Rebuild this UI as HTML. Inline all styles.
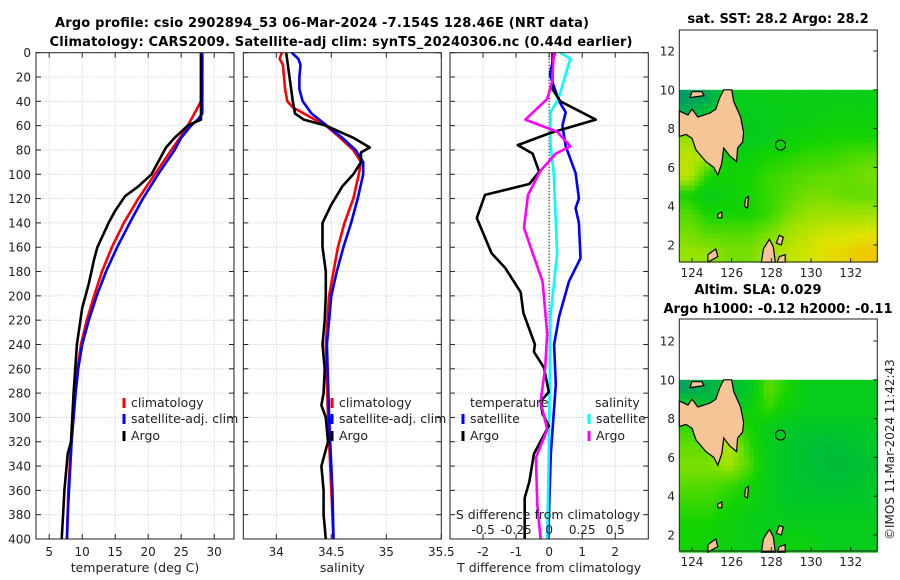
<!DOCTYPE html>
<html><head><meta charset="utf-8"><style>
body{margin:0;background:#fff;}
svg{display:block;font-family:"DejaVu Sans","Liberation Sans",sans-serif;}
</style></head><body>
<svg id="fig" width="900" height="580" viewBox="0 0 900 580" xmlns="http://www.w3.org/2000/svg">
<text x="322" y="27" font-size="13" font-weight="bold" text-anchor="middle" textLength="534">Argo profile: csio 2902894_53 06-Mar-2024 -7.154S 128.46E (NRT data)</text>
<text x="341" y="46" font-size="13" font-weight="bold" text-anchor="middle" textLength="583">Climatology: CARS2009. Satellite-adj clim: synTS_20240306.nc (0.44d earlier)</text>
<text x="778" y="23" font-size="13" font-weight="bold" text-anchor="middle">sat. SST: 28.2 Argo: 28.2</text>
<text x="758" y="294" font-size="13" font-weight="bold" text-anchor="middle">Altim. SLA: 0.029</text>
<text x="778" y="313" font-size="13" font-weight="bold" text-anchor="middle">Argo h1000: -0.12 h2000: -0.11</text>
<text transform="translate(894,540) rotate(-90)" font-size="12" fill="#222">©IMOS 11-Mar-2024 11:42:43</text>
</svg>
<script>
// ---------- data ----------
const yTicks=[0,20,40,60,80,100,120,140,160,180,200,220,240,260,280,300,320,340,360,380,400];
const tTicks=[5,10,15,20,25,30];
const sTicks=[34,34.5,35,35.5];
const dTicks=[-2,-1,0,1,2];
const dTickLabels=["-2","-1","0","1","2"];
const sdTicks=[-0.5,-0.25,0,0.25,0.5];
const sdTickLabels=["-0.5","-0.25","0","0.25","0.5"];

const tClimDepth=[0,40,50,60,70,80,100,120,140,160,180,200,220,240,260,280,300,320,340,360,380,400];
const tClimVal=[28,28,27,26,24.8,23.5,21,18.5,16.3,14.5,13,11.8,10.7,9.8,9.3,8.9,8.6,8.3,8.1,7.9,7.8,7.7];
const tSatDepth=[0,50,55,60,70,80,100,120,140,160,180,200,220,240,260,280,300,320,340,360,380,400];
const tSatVal=[28.2,28.2,27.5,26.5,25,24,21.5,19.2,17.2,15.3,13.6,12.2,11,10,9.4,9,8.7,8.4,8.2,8,7.8,7.7];
const tArgoDepth=[0,50,55,60,70,78,90,100,110,118,130,140,160,170,190,210,240,280,300,320,330,360,380,400];
const tArgoVal=[28,28,28,26,24,22.7,21.5,20.5,18.5,16.5,15,14,12.3,11.8,11,10,9.2,8.7,8.5,8.3,7.8,7.3,7.1,6.9];

const sClimDepth=[0,5,10,30,40,45,55,60,70,80,90,100,120,140,160,180,200,240,300,360,400];
const sClimVal=[34.05,34.03,34.06,34.08,34.1,34.15,34.35,34.45,34.58,34.7,34.77,34.75,34.7,34.62,34.56,34.52,34.48,34.45,34.47,34.5,34.52];
const sSatDepth=[0,5,10,20,30,40,50,60,70,80,90,100,120,140,160,180,200,240,300,360,400];
const sSatVal=[34.14,34.2,34.22,34.21,34.21,34.24,34.32,34.46,34.6,34.72,34.79,34.79,34.74,34.68,34.61,34.55,34.5,34.46,34.48,34.51,34.52];
const sArgoDepth=[0,20,40,50,55,60,70,78,82,90,100,110,125,140,160,180,200,220,240,260,280,290,300,320,340,360,380,400];
const sArgoVal=[34.09,34.12,34.15,34.17,34.25,34.45,34.7,34.85,34.77,34.77,34.7,34.6,34.5,34.42,34.42,34.45,34.45,34.44,34.42,34.44,34.43,34.41,34.45,34.47,34.41,34.43,34.43,34.45];

const dTArgoDepth=[0,30,40,55,66,76,83,98,108,117,136,165,177,197,214,240,246,259,279,287,297,307,330,353,366,400];
const dTArgoVal=[0.1,0.1,0.34,1.41,0.04,-0.95,-0.5,-0.3,-0.6,-1.94,-2.19,-1.74,-1.33,-0.86,-0.78,-0.43,-0.46,-0.16,-0.01,-0.26,-0.2,-0.01,-0.46,-0.6,-0.74,-0.74];
const dTSatDepth=[0,18,40,49,60,77,99,120,128,140,169,188,217,240,273,330,400];
const dTSatVal=[0.17,0.02,0.3,0.5,0.4,0.5,0.8,0.9,0.8,0.9,0.95,0.6,0.3,0.15,0.2,0.05,-0.03];
const dSArgoDepth=[0,24,38,55,65,77,83,97,117,144,160,188,231,259,287,310,333,372,400];
const dSArgoVal=[0.035,0.022,-0.015,-0.18,0.06,0.16,0.05,-0.065,-0.16,-0.19,-0.14,-0.05,-0.015,-0.03,-0.065,-0.015,-0.1,-0.09,-0.065];
const dSSatDepth=[0,5,38,49,75,100,165,217,330,400];
const dSSatVal=[0.085,0.16,0.07,0.01,0.01,0.035,0.06,0.01,-0.003,-0.015];

const mapLats=[9.5,8.5,7.5,6.5,5.5,4.5,3.5,2.5,1.5];
const sstGrid=[
[0.05,0.15,0.4,0.4,0.42,0.42,0.42,0.42,0.42,0.42],
[0.3,0.45,0.4,0.38,0.4,0.42,0.42,0.45,0.45,0.45],
[0.7,0.65,0.42,0.38,0.4,0.45,0.48,0.5,0.5,0.5],
[0.78,0.72,0.45,0.45,0.5,0.52,0.55,0.55,0.58,0.6],
[0.78,0.5,0.48,0.5,0.55,0.58,0.6,0.62,0.62,0.65],
[0.5,0.4,0.45,0.5,0.55,0.6,0.65,0.65,0.62,0.62],
[0.6,0.5,0.5,0.5,0.55,0.65,0.7,0.72,0.72,0.72],
[0.65,0.6,0.6,0.6,0.65,0.72,0.78,0.82,0.82,0.85],
[0.7,0.7,0.65,0.65,0.72,0.78,0.82,0.88,0.92,0.97]];
const slaGrid=[
[0.1,0.2,0.3,0.35,0.62,0.5,0.4,0.4,0.4,0.4],
[0.5,0.3,0.3,0.45,0.55,0.45,0.4,0.4,0.4,0.4],
[0.55,0.5,0.62,0.5,0.4,0.36,0.35,0.35,0.35,0.36],
[0.62,0.62,0.78,0.55,0.4,0.35,0.3,0.26,0.3,0.35],
[0.66,0.66,0.72,0.6,0.4,0.35,0.3,0.26,0.26,0.3],
[0.6,0.6,0.56,0.5,0.4,0.35,0.32,0.3,0.3,0.35],
[0.55,0.55,0.5,0.45,0.4,0.36,0.35,0.35,0.35,0.36],
[0.5,0.5,0.45,0.42,0.4,0.4,0.4,0.4,0.4,0.4],
[0.5,0.46,0.45,0.42,0.4,0.45,0.45,0.4,0.4,0.4]];
const mapLonTicks=[124,126,128,130,132];
const mapLatTicks=[2,4,6,8,10,12];
const argoLon=128.46, argoLat=7.15;
const landMain=[[123.36,8.9],[123.8,8.7],[124.0,9.0],[124.3,8.6],[124.9,8.8],[125.2,9.0],[125.4,9.6],[125.6,10.0],[126.0,10.0],[126.1,9.4],[126.45,8.6],[126.6,7.8],[126.55,7.3],[126.3,7.0],[126.25,6.3],[125.9,6.6],[125.6,7.0],[125.5,6.2],[125.3,5.6],[125.1,6.0],[124.7,6.3],[124.2,6.9],[124.0,7.5],[123.7,7.7],[123.36,7.6]];
const landTopLeft=[[123.9,9.6],[124.6,9.7],[124.5,9.9],[124.0,9.9]];
const landHalma1=[[127.5,1.12],[127.6,1.8],[127.9,2.3],[128.1,1.9],[128.2,1.12]];
const landHalma2=[[128.25,2.1],[128.4,2.5],[128.6,2.4],[128.5,2.0]];
const landHalma3=[[128.3,1.12],[128.4,1.4],[128.7,1.5],[128.7,1.12]];
const landSmall1=[[126.7,4.4],[126.85,4.5],[126.8,3.9],[126.65,4.0]];
const landSmall2=[[125.3,3.6],[125.5,3.7],[125.5,3.4],[125.3,3.4]];
const landSmall3=[[124.8,1.5],[125.2,1.8],[125.3,1.4],[124.8,1.12]];
const landList=[landMain,landTopLeft,landHalma1,landHalma2,landHalma3,landSmall1,landSmall2,landSmall3];

// ---------- helpers ----------
const NS="http://www.w3.org/2000/svg";
const svg=document.getElementById('fig');
function mk(tag,attrs,parent){const e=document.createElementNS(NS,tag);for(const k in attrs)e.setAttribute(k,attrs[k]);(parent||svg).appendChild(e);return e;}
const TOP=52.7,BOT=539;
function yD(d){return TOP+(d/400)*(BOT-TOP);}
function linScale(d0,d1,p0,p1){return v=>p0+(v-d0)/(d1-d0)*(p1-p0);}

function panel(name,x0,x1,xScale,xticks,xlabels,xtitle,showY){
  let r=mk('rect',{x:x0,y:TOP,width:x1-x0,height:BOT-TOP,fill:'#fff'});
  
  
  yTicks.forEach(t=>{
    let g=mk('line',{x1:x0,x2:x1,y1:yD(t),y2:yD(t),stroke:'#c6cbe6','stroke-width':0.8,'stroke-dasharray':'1.5,1.5'});
    
    
    let a=mk('line',{x1:x0,x2:x0+5,y1:yD(t),y2:yD(t),stroke:'#222'});
    
    
    let b=mk('line',{x1:x1-5,x2:x1,y1:yD(t),y2:yD(t),stroke:'#222'});
    
    
    if(showY){
      let l=mk('text',{x:x0-5,y:yD(t)+4.5,'font-size':12,'text-anchor':'end',fill:'#222'});
      l.textContent=t;
      
      
    }
  });
  xticks.forEach((t,i)=>{
    const x=xScale(t);
    let g=mk('line',{x1:x,x2:x,y1:TOP,y2:BOT,stroke:'#c6cbe6','stroke-width':0.8,'stroke-dasharray':'1.5,1.5'});
    
    
    let a=mk('line',{x1:x,x2:x,y1:BOT-5,y2:BOT,stroke:'#222'});
    
    
    let b=mk('line',{x1:x,x2:x,y1:TOP,y2:TOP+5,stroke:'#222'});
    
    
    let l=mk('text',{x:x,y:556,'font-size':12,'text-anchor':'middle',fill:'#222'});
    l.textContent=xlabels[i];
    
    
  });
  let tt=mk('text',{x:(x0+x1)/2,y:572,'font-size':12.5,'text-anchor':'middle',fill:'#222'});
  tt.textContent=xtitle;
  
  
}
function frame(name,x0,x1){
  let f=mk('rect',{x:x0,y:TOP,width:x1-x0,height:BOT-TOP,fill:'none',stroke:'#222','stroke-width':1});
  
  
}
function series(name,depths,vals,xs,color,w){
  const pts=depths.map((d,i)=>xs(vals[i]).toFixed(1)+','+yD(d).toFixed(1)).join(' ');
  let p=mk('polyline',{points:pts,fill:'none',stroke:color,'stroke-width':w||2.6,'stroke-linejoin':'round'});
  
  
}
function legendEntry(name,x,y,color,label){
  let m=mk('line',{x1:x,x2:x,y1:y-9,y2:y+1,stroke:color,'stroke-width':3});
  
  
  let t=mk('text',{x:x+7,y:y,'font-size':12.5,fill:'#222'});
  t.textContent=label;
  
  
}

// ---------- temperature panel ----------
const xT=linScale(3,33,36,234);
panel('temperature-panel',36,234,xT,tTicks,tTicks.map(String),'temperature (deg C)',true);
series('temp-climatology-line',tClimDepth,tClimVal,xT,'#f00');
series('temp-satellite-line',tSatDepth,tSatVal,xT,'#00f');
series('temp-argo-line',tArgoDepth,tArgoVal,xT,'#000');
legendEntry('temp-legend-climatology',124,407,'#f00','climatology');
legendEntry('temp-legend-satellite',124,423,'#00f','satellite-adj. clim');
legendEntry('temp-legend-argo',124,440,'#000','Argo');
frame('temperature-panel',36,234);

// ---------- salinity panel ----------
const xS=linScale(34,35.5,276.3,441.3);
panel('salinity-panel',243.3,441.3,xS,sTicks,["34","34.5","35","35.5"],'salinity',false);
series('sal-climatology-line',sClimDepth,sClimVal,xS,'#f00');
series('sal-satellite-line',sSatDepth,sSatVal,xS,'#00f');
series('sal-argo-line',sArgoDepth,sArgoVal,xS,'#000');
legendEntry('sal-legend-climatology',332,407,'#f00','climatology');
legendEntry('sal-legend-satellite',332,423,'#00f','satellite-adj. clim');
legendEntry('sal-legend-argo',332,440,'#000','Argo');
frame('salinity-panel',243.3,441.3);

// ---------- difference panel ----------
const xDT=linScale(-3,3,450,648.3);
const xDS=v=>xDT(v*4);
panel('difference-panel',450,648.3,xDT,dTicks,dTickLabels,'T difference from climatology',false);
let zl=mk('line',{x1:xDT(0),x2:xDT(0),y1:TOP,y2:BOT,stroke:'#000','stroke-width':1.2,'stroke-dasharray':'1,2'});


series('diff-temp-satellite-line',dTSatDepth,dTSatVal,xDT,'#00f');
series('diff-sal-satellite-line',dSSatDepth,dSSatVal,xDS,'#0ff');
series('diff-temp-argo-line',dTArgoDepth,dTArgoVal,xDT,'#000');
series('diff-sal-argo-line',dSArgoDepth,dSArgoVal,xDS,'#f0f');
let lt=mk('text',{x:470,y:407,'font-size':12.5,fill:'#222'});lt.textContent='temperature';


let ls=mk('text',{x:595,y:407,'font-size':12.5,fill:'#222'});ls.textContent='salinity';


legendEntry('diff-legend-temp-satellite',463,423,'#00f','satellite');
legendEntry('diff-legend-temp-argo',463,440,'#000','Argo');
legendEntry('diff-legend-sal-satellite',589,423,'#0ff','satellite');
legendEntry('diff-legend-sal-argo',589,440,'#f0f','Argo');
let sdt=mk('text',{x:548,y:519,'font-size':12.5,'text-anchor':'middle',fill:'#222'});sdt.textContent='S difference from climatology';


sdTicks.forEach((t,i)=>{
  let l=mk('text',{x:xDS(t),y:534,'font-size':12,'text-anchor':'middle',fill:'#222'});
  l.textContent=sdTickLabels[i];
  
  
});
frame('difference-panel',450,648.3);

// ---------- maps ----------
const LON0=123.36,LON1=133.34;
const stops=[[0,[0,150,110]],[0.35,[0,200,40]],[0.5,[20,212,0]],[0.7,[150,226,0]],[0.85,[222,228,0]],[1,[245,190,0]]];
function cmap(v){for(let i=1;i<stops.length;i++){if(v<=stops[i][0]){const a=stops[i-1],b=stops[i];const f=(v-a[0])/(b[0]-a[0]);return 'rgb('+a[1].map((c,k)=>Math.round(c+f*(b[1][k]-c))).join(',')+')';}}return 'rgb(245,190,0)';}
function sampleGrid(grid,fr,fc){
  const R=grid.length,C=grid[0].length;
  let r=Math.min(Math.max(fr,0),R-1),c=Math.min(Math.max(fc,0),C-1);
  const r0=Math.floor(r),c0=Math.floor(c),r1=Math.min(r0+1,R-1),c1=Math.min(c0+1,C-1);
  const a=r-r0,b=c-c0;
  return grid[r0][c0]*(1-a)*(1-b)+grid[r0][c1]*(1-a)*b+grid[r1][c0]*a*(1-b)+grid[r1][c1]*a*b;
}
function drawMap(name,grid,yTop,yBot,y2,y12){
  const xs=linScale(LON0,LON1,679.3,877.3);
  const ys=linScale(2,12,y2,y12);
  let bg=mk('rect',{x:679.3,y:yTop,width:198,height:yBot-yTop,fill:'#fff'});
  
  
  const nc=grid[0].length, nr=grid.length;
  const dl=(LON1-LON0)/nc;
  const latTop=10, latBot=1.12, dlat=(latTop-latBot)/nr;
  const SUB=4;
  for(let r=0;r<nr*SUB;r++){
    for(let c=0;c<nc*SUB;c++){
      const fr=(r+0.5)/SUB-0.5, fc=(c+0.5)/SUB-0.5;
      const v=sampleGrid(grid,fr,fc);
      const xa=xs(LON0+c*dl/SUB),xb=xs(LON0+(c+1)*dl/SUB);
      const ya=ys(latTop-r*dlat/SUB),yb=ys(latTop-(r+1)*dlat/SUB);
      let cell=mk('rect',{x:xa.toFixed(2),y:ya.toFixed(2),width:(xb-xa+0.6).toFixed(2),height:(yb-ya+0.6).toFixed(2),fill:cmap(v)});
      
      
    }
  }
  landList.forEach(poly=>{
    let p=mk('polygon',{points:poly.map(q=>xs(q[0]).toFixed(1)+','+ys(q[1]).toFixed(1)).join(' '),fill:'#f5c596',stroke:'#000','stroke-width':1.2});
    
    
  });
  let dot=mk('circle',{cx:xs(argoLon),cy:ys(argoLat),r:5,fill:'none',stroke:'#000','stroke-width':1});
  
  
  let fr=mk('rect',{x:679.3,y:yTop,width:198,height:yBot-yTop,fill:'none',stroke:'#222'});
  
  
  mapLonTicks.forEach(t=>{
    let tk=mk('line',{x1:xs(t),x2:xs(t),y1:yBot,y2:yBot-4,stroke:'#222'});
    
    
    let l=mk('text',{x:xs(t),y:yBot+15,'font-size':12,'text-anchor':'middle',fill:'#222'});
    l.textContent=t;
    
    
  });
  mapLatTicks.forEach(t=>{
    let tk=mk('line',{x1:877.3,x2:873.3,y1:ys(t),y2:ys(t),stroke:'#222'});
    
    
    let l=mk('text',{x:675,y:ys(t)+4.5,'font-size':12,'text-anchor':'end',fill:'#222'});
    l.textContent=t;
    
    
  });
}
drawMap('sst-map',sstGrid,30,262,245,51);
drawMap('sla-map',slaGrid,319,551,535,341);
</script>
</body></html>
